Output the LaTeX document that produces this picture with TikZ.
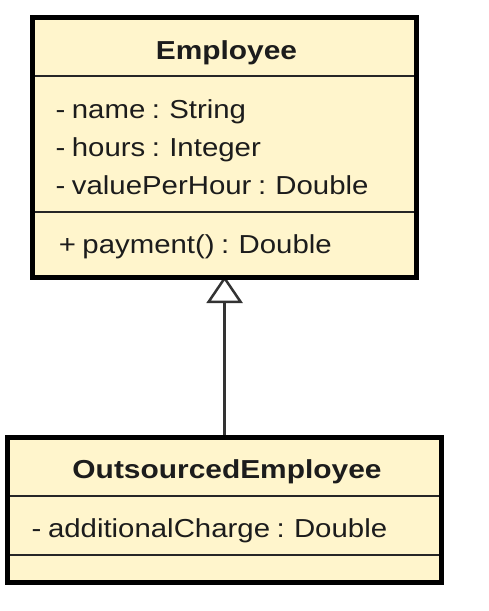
\documentclass[tikz,border=0pt]{standalone}
\usepackage{fontspec}
\usetikzlibrary{arrows.meta}
\newfontfamily\umlfont[FakeStretch=1.13, WordSpace=0.8]{Liberation Sans}
\newfontfamily\umlbold[FakeStretch=1.15]{Liberation Sans Bold}
\definecolor{classfill}{HTML}{FFF5CC}
\definecolor{ink}{HTML}{1C1C1C}
\begin{document}
\begin{tikzpicture}[x=1pt,y=-1pt,
  classbox/.style={draw=black, fill=classfill, line width=5pt, rectangle, inner sep=0pt, outer sep=0pt},
  sepline/.style={draw=black!85, line width=2pt},
  classname/.style={anchor=base, inner sep=0pt, text=ink, font=\umlbold\fontsize{26}{30}\selectfont},
  member/.style={anchor=base west, inner sep=0pt, text=ink, font=\umlfont\fontsize{26}{30}\selectfont},
  inherit/.style={draw=black!80, line width=2.5pt, -{Triangle[open, length=27pt, width=36pt, fill=white]}}
]
\useasboundingbox (0,0) rectangle (488,611);

% generalization connector (drawn first so the class borders sit over its tip)
\coordinate (tip) at (224.6,276);
\coordinate (foot) at (224.6,437.5);
\draw[inherit] (foot) -- (tip);

% class Employee
\node[classbox, minimum width=384.2pt, minimum height=260pt] (emp) at (224.6,147.5) {};
\coordinate (e1) at (0,75.7);
\coordinate (e2) at (0,211.7);
\draw[sepline] (emp.west |- e1) -- (emp.east |- e1);
\draw[sepline] (emp.west |- e2) -- (emp.east |- e2);
\node[classname] (empname) at (226.5,59) {Employee};
\node[member] (a1) at (55.4,118.3) {- name : String};
\node[member] (a2) at (55.4,156.7) {- hours : Integer};
\node[member] (a3) at (55.4,194.3) {- valuePerHour : Double};
\node[member] (m1) at (58.6,253.3) {+ payment() : Double};

% class OutsourcedEmployee
\node[classbox, minimum width=434.3pt, minimum height=145pt] (out) at (224.65,510) {};
\coordinate (o1) at (0,496);
\coordinate (o2) at (0,555);
\draw[sepline] (out.west |- o1) -- (out.east |- o1);
\draw[sepline] (out.west |- o2) -- (out.east |- o2);
\node[classname] (outname) at (227,478.3) {OutsourcedEmployee};
\node[member] (b1) at (31.5,537.7) {- additionalCharge : Double};

% redraw the borders over the separator ends
\draw[line width=5pt] (emp.north west) rectangle (emp.south east);
\draw[line width=5pt] (out.north west) rectangle (out.south east);
\end{tikzpicture}
\end{document}
